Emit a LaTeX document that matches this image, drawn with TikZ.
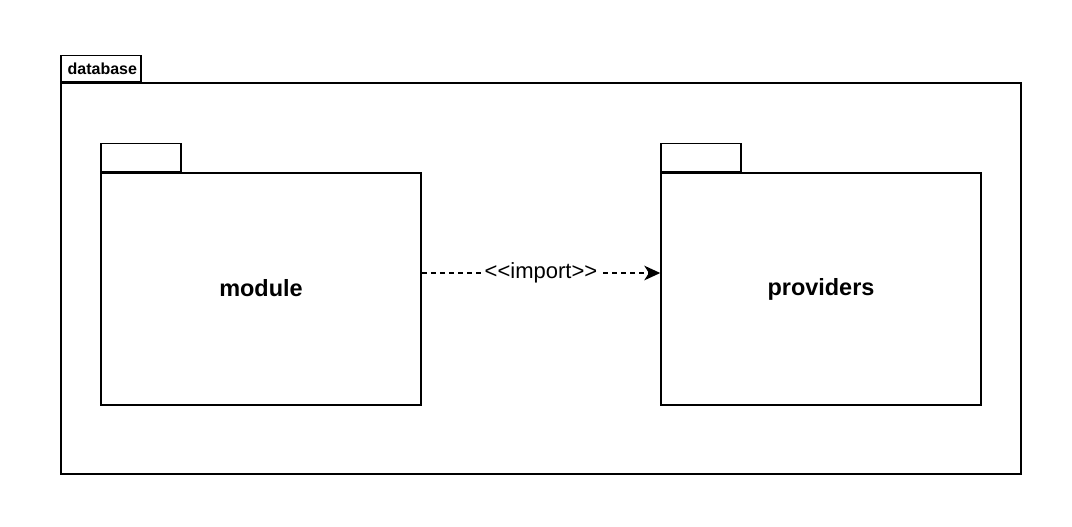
\documentclass[tikz,border=0pt]{standalone}
\usepackage{fontspec}
\setmainfont{Liberation Sans}
\usepackage{tikz}
\usetikzlibrary{shapes,arrows,arrows.meta}
\tikzstyle{pkg} = [draw, fill=white, rectangle, line width=1.1pt, inner sep=0pt,
    minimum width=240pt, minimum height=174pt, font=\fontsize{17.6}{20}\selectfont\bfseries]
\tikzstyle{tab} = [draw, fill=white, rectangle, line width=1.1pt, inner sep=0pt,
    minimum width=60pt, minimum height=21pt, anchor=south west]
\tikzstyle{dep} = [dash pattern=on 3.8pt off 3pt, line width=1.1pt]

\begin{document}
\begin{tikzpicture}[x=0.75pt, y=-0.75pt, >={Stealth[length=12pt,width=11pt,inset=3.5pt]}]
    \useasboundingbox (0,0) rectangle (1072,526);
    % We start by placing the outer package
    \node [draw, rectangle, line width=1.1pt, inner sep=0pt, minimum width=720pt,
        minimum height=293.25pt] (database) at (541,278.5) {};
    \node [tab, minimum height=19.5pt, font=\fontsize{12}{14}\selectfont\bfseries]
        (dbtab) at (database.north west) {\hspace{2pt}database\hspace{3pt}};
    % Then the two inner packages
    \node [pkg] (module) at (261,289) {\raisebox{2pt}{module}};
    \node [tab] (moduletab) at (module.north west) {};
    \node [pkg] (providers) at (821,289) {\raisebox{2pt}{providers}};
    \node [tab] (providerstab) at (providers.north west) {};
    % We draw the import dependency
    \draw [dep, ->] ([yshift=12pt]module.east) --
        node[fill=white, inner sep=1pt, font=\fontsize{16.5}{18}\selectfont] (import) {{<}{<}import{>}{>}}
        ([yshift=12pt]providers.west);
\end{tikzpicture}
\end{document}
